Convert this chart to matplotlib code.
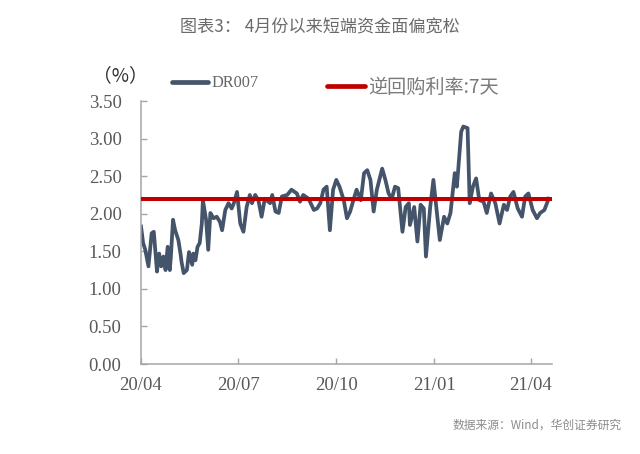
import matplotlib
matplotlib.use("Agg")
import matplotlib.pyplot as plt
from matplotlib.lines import Line2D
import pandas as pd

# ---- data ----
dr007_dates = [
    "2020-04-01", "2020-04-03", "2020-04-05", "2020-04-08", "2020-04-11", "2020-04-13",
    "2020-04-16", "2020-04-18", "2020-04-20", "2020-04-22", "2020-04-24", "2020-04-26",
    "2020-04-28", "2020-04-29", "2020-05-01", "2020-05-03", "2020-05-06", "2020-05-08",
    "2020-05-09", "2020-05-11", "2020-05-14", "2020-05-16", "2020-05-19", "2020-05-20",
    "2020-05-22", "2020-05-24", "2020-05-26", "2020-05-28", "2020-05-29", "2020-06-01",
    "2020-06-03", "2020-06-05", "2020-06-08", "2020-06-11", "2020-06-14", "2020-06-16",
    "2020-06-19", "2020-06-22", "2020-06-25", "2020-06-27", "2020-06-30", "2020-07-03",
    "2020-07-06", "2020-07-09", "2020-07-12", "2020-07-14", "2020-07-17", "2020-07-20",
    "2020-07-23", "2020-07-26", "2020-07-31", "2020-08-02", "2020-08-05", "2020-08-08",
    "2020-08-11", "2020-08-16", "2020-08-20", "2020-08-25", "2020-08-28", "2020-08-31",
    "2020-09-05", "2020-09-10", "2020-09-13", "2020-09-16", "2020-09-19", "2020-09-22",
    "2020-09-25", "2020-09-28", "2020-10-01", "2020-10-04", "2020-10-08", "2020-10-11",
    "2020-10-14", "2020-10-17", "2020-10-20", "2020-10-24", "2020-10-27", "2020-10-30",
    "2020-11-02", "2020-11-05", "2020-11-08", "2020-11-13", "2020-11-16", "2020-11-19",
    "2020-11-22", "2020-11-25", "2020-11-28", "2020-12-02", "2020-12-05", "2020-12-08",
    "2020-12-09", "2020-12-13", "2020-12-16", "2020-12-19", "2020-12-22", "2020-12-24",
    "2020-12-28", "2020-12-31", "2021-01-02", "2021-01-06", "2021-01-10", "2021-01-13",
    "2021-01-16", "2021-01-20", "2021-01-22", "2021-01-26", "2021-01-28", "2021-02-01",
    "2021-02-03", "2021-02-06", "2021-02-09", "2021-02-12", "2021-02-16", "2021-02-19",
    "2021-02-23", "2021-02-27", "2021-03-03", "2021-03-07", "2021-03-10", "2021-03-13",
    "2021-03-16", "2021-03-20", "2021-03-24", "2021-03-27", "2021-03-30", "2021-04-03",
    "2021-04-07", "2021-04-10", "2021-04-14", "2021-04-18",
]
dr007_values = [
    1.83, 1.61, 1.52, 1.30, 1.74, 1.76,
    1.23, 1.47, 1.30, 1.43, 1.25, 1.56,
    1.25, 1.43, 1.92, 1.78, 1.65, 1.47,
    1.36, 1.21, 1.25, 1.49, 1.32, 1.47,
    1.38, 1.56, 1.61, 1.87, 2.18, 1.92,
    1.52, 2.01, 1.94, 1.96, 1.89, 1.78,
    2.05, 2.14, 2.07, 2.14, 2.29, 1.87,
    1.76, 2.09, 2.25, 2.14, 2.25, 2.18,
    1.96, 2.20, 2.14, 2.25, 2.03, 2.01,
    2.23, 2.25, 2.32, 2.27, 2.16, 2.25,
    2.20, 2.05, 2.07, 2.14, 2.32, 2.36,
    1.78, 2.32, 2.45, 2.36, 2.18, 1.94,
    2.03, 2.18, 2.32, 2.18, 2.54, 2.58,
    2.45, 2.03, 2.32, 2.60, 2.45, 2.27,
    2.20, 2.36, 2.34, 1.76, 2.09, 2.14,
    1.85, 2.09, 1.63, 2.12, 2.07, 1.43,
    2.09, 2.45, 2.18, 1.65, 1.96, 1.87,
    2.01, 2.54, 2.36, 3.09, 3.16, 3.14,
    2.14, 2.36, 2.47, 2.18, 2.16, 2.01,
    2.27, 2.14, 1.87, 2.12, 2.05, 2.23,
    2.29, 2.07, 1.96, 2.23, 2.27, 2.05,
    1.94, 2.01, 2.05, 2.20,
]
repo_dates = ["2020-04-01", "2021-04-20"]
repo_values = [2.20, 2.20]

x_ticks = ["2020-04-01", "2020-07-01", "2020-10-01", "2021-01-01", "2021-04-01"]
x_tick_labels = ["20/04", "20/07", "20/10", "21/01", "21/04"]
y_ticks = [0.0, 0.5, 1.0, 1.5, 2.0, 2.5, 3.0, 3.5]

title = "图表3： 4月份以来短端资金面偏宽松"
unit_label = "（%）"
series_names = ["DR007", "逆回购利率:7天"]
source = "数据来源：Wind，华创证券研究"

# ---- plot ----
plt.rcParams["font.family"] = ["Liberation Serif", "Noto Sans CJK SC", "DejaVu Sans"]
fig = plt.figure(figsize=(6.4, 4.54), dpi=100)
ax = fig.add_axes([0.2203, 0.1982, 0.642, 0.5793])

grey_txt = "#595959"
spine_c = "#a6a6a6"
blue = "#44546a"
red = "#c00000"

ax.plot(pd.to_datetime(dr007_dates), dr007_values, color=blue,
        lw=2.7, solid_joinstyle="round", zorder=2)
ax.plot(pd.to_datetime(repo_dates), repo_values, color=red, lw=2.9, zorder=3)

ax.set_xlim(pd.Timestamp("2020-04-01"), pd.Timestamp("2021-04-21"))
ax.set_ylim(0, 3.5)
ax.set_yticks(y_ticks)
ax.set_yticklabels([f"{v:.2f}" for v in y_ticks])
ax.set_xticks(pd.to_datetime(x_ticks))
ax.set_xticklabels(x_tick_labels)

for s in ["top", "right"]:
    ax.spines[s].set_visible(False)
for s in ["left", "bottom"]:
    ax.spines[s].set_color(spine_c)
    ax.spines[s].set_linewidth(1.1)

ax.tick_params(axis="both", direction="in", length=4, width=1.0, color=spine_c,
               labelcolor=grey_txt, labelsize=13.5)
ax.tick_params(axis="y", pad=14)
ax.tick_params(axis="x", pad=9)
for lab in ax.get_xticklabels() + ax.get_yticklabels():
    lab.set_family("Liberation Serif")

fig.text(0.5, 0.94, title, ha="center", va="center", color="#6b6b6b",
         fontsize=12.3, family=["Noto Sans CJK SC", "DejaVu Sans"])
fig.text(120 / 640, 1 - 76 / 454, unit_label, ha="center", va="center", color="#303030",
         fontsize=13.5, family=["Noto Sans CJK SC", "DejaVu Sans"])

# legend (drawn manually to match spacing)
fig.add_artist(Line2D([172 / 640, 208 / 640], [1 - 82 / 454] * 2, color=blue,
                      lw=3.4, solid_capstyle="round", transform=fig.transFigure))
fig.text(211 / 640, 1 - 83 / 454, series_names[0], ha="left", va="center",
         color="#666666", fontsize=11.7, family=["Liberation Serif"])
fig.add_artist(Line2D([327 / 640, 365 / 640], [1 - 86 / 454] * 2, color=red,
                      lw=3.4, solid_capstyle="round", transform=fig.transFigure))
fig.text(368 / 640, 1 - 87 / 454, series_names[1], ha="left", va="center",
         color="#7a7a7a", fontsize=13.8, fontweight="light",
         family=["Noto Sans CJK SC", "DejaVu Sans"])

fig.text(622 / 640, 1 - 425 / 454, source, ha="right", va="center", color="#8c8c8c",
         fontsize=8.5, family=["Noto Sans CJK SC", "DejaVu Sans"])

fig.savefig("out.png", dpi=100, facecolor="white")
